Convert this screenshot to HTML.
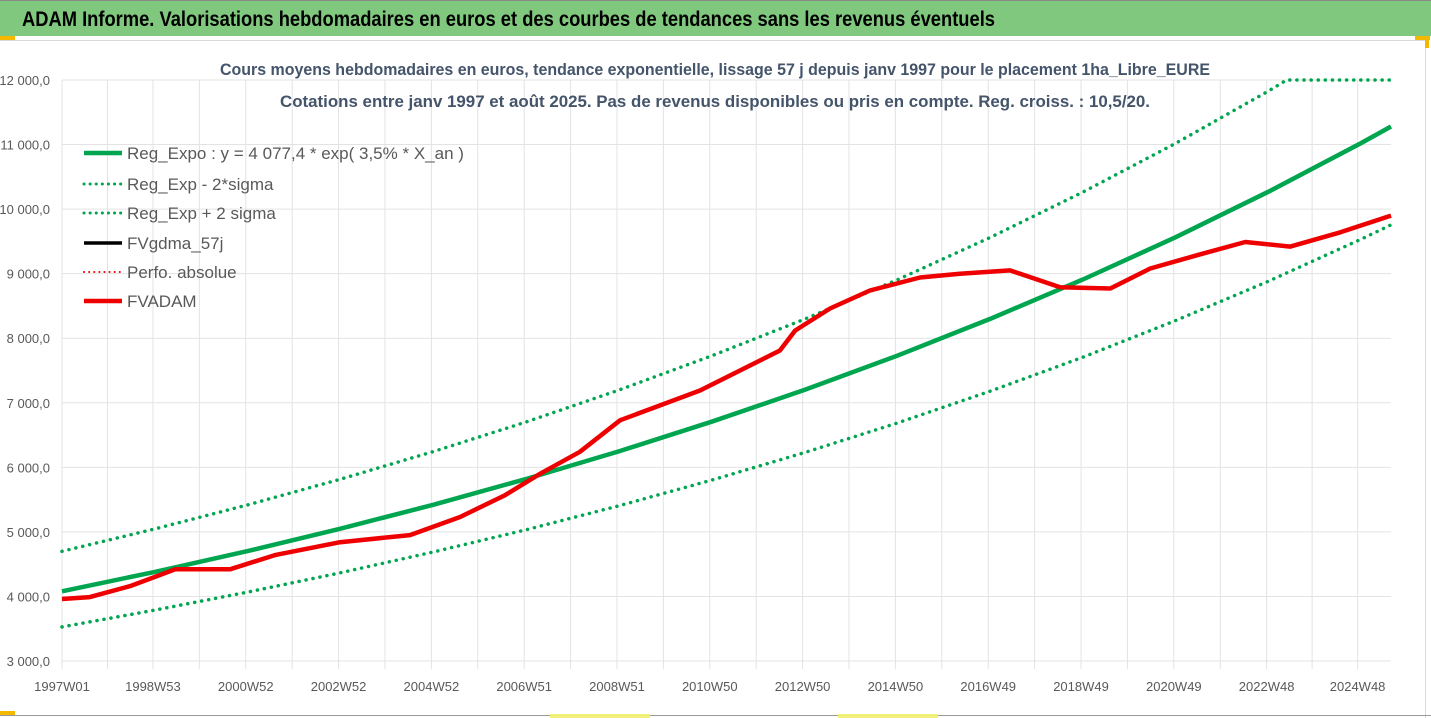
<!DOCTYPE html>
<html><head><meta charset="utf-8"><style>
html,body{margin:0;padding:0;background:#fff;}
svg{display:block;font-family:"Liberation Sans",sans-serif;}
</style></head><body>
<svg id="chart" width="1431" height="718" viewBox="0 0 1431 718">
<rect x="0" y="0" width="1431" height="718" fill="#ffffff"/>
<rect x="0" y="0" width="1431" height="36" fill="#80c87e"/>
<line x1="0" y1="0.5" x2="1431" y2="0.5" stroke="#888"/>
<text x="22" y="26" font-size="21" font-weight="bold" fill="#000" textLength="973" lengthAdjust="spacingAndGlyphs">ADAM Informe. Valorisations hebdomadaires en euros et des courbes de tendances sans les revenus éventuels</text>
<line x1="0" y1="40.5" x2="1425" y2="40.5" stroke="#d9d9d9"/>
<line x1="1425.5" y1="40" x2="1425.5" y2="718" stroke="#d9d9d9"/>
<line x1="0" y1="715.5" x2="1431" y2="715.5" stroke="#999"/>
<rect x="0" y="36" width="15" height="4" fill="#f5b800"/>
<rect x="1415" y="36" width="15" height="4" fill="#f5b800"/>
<rect x="1425" y="36" width="4" height="12" fill="#f5b800"/>
<rect x="0" y="711" width="15" height="4" fill="#f5b800"/>
<rect x="550" y="714" width="100" height="4" fill="#f0f07a"/>
<rect x="838" y="714" width="100" height="4" fill="#f0f07a"/>
<g id="grid"></g>
<g id="yaxis"></g>
<g id="xaxis"></g>
<g id="series"></g>
<text x="715" y="75" text-anchor="middle" font-size="16.5" font-weight="bold" fill="#44546a" textLength="990" lengthAdjust="spacingAndGlyphs">Cours moyens hebdomadaires en euros, tendance exponentielle, lissage 57 j depuis janv 1997 pour le placement 1ha_Libre_EURE</text>
<text x="715" y="107" text-anchor="middle" font-size="16.5" font-weight="bold" fill="#44546a" textLength="870" lengthAdjust="spacingAndGlyphs">Cotations entre janv 1997 et août 2025. Pas de revenus disponibles ou pris en compte. Reg. croiss. : 10,5/20.</text>
<g id="legend"></g>
</svg>
<script>
const yTicks = [3000,4000,5000,6000,7000,8000,9000,10000,11000,12000];
const xTickLabels = ["1997W01","1998W53","2000W52","2002W52","2004W52","2006W51","2008W51","2010W50","2012W50","2014W50","2016W49","2018W49","2020W49","2022W48","2024W48"];
const xTickYears = [1997,1998.96,2000.96,2002.96,2004.96,2006.96,2008.96,2010.96,2012.96,2014.96,2016.96,2018.96,2020.96,2022.96,2024.92];
const regYears = [1997,1999,2001,2003,2005,2007,2009,2011,2013,2015,2017,2019,2021,2023,2025,2025.64];
const regExpo = [4080,4380,4703,5049,5420,5819,6247,6707,7200,7730,8299,8909,9565,10269,11024,11279];
const regLow = [3529,3789,4068,4367,4688,5033,5404,5802,6228,6686,7179,7706,8274,8883,9536,9756];
const regHigh = [4700,5046,5418,5816,6244,6703,7197,7727,8294,8905,9561,10263,11019,11830,12700,12993];
const adamYears = [1997.0,1997.6,1998.47,1999.44,2000.62,2001.59,2002.99,2004.5,2005.58,2006.55,2007.3,2008.16,2009.03,2009.89,2010.75,2011.61,2012.47,2012.8,2013.55,2014.41,2015.49,2016.35,2017.43,2018.51,2019.59,2020.45,2021.53,2022.5,2023.47,2024.54,2025.64];
const adamValues = [3960,3990,4160,4420,4420,4640,4840,4950,5230,5570,5900,6240,6730,6960,7190,7500,7810,8120,8460,8740,8940,9000,9050,8790,8770,9080,9300,9490,9420,9640,9900];
const legendLabels = ["Reg_Expo : y = 4 077,4 * exp( 3,5% *  X_an )","Reg_Exp - 2*sigma","Reg_Exp + 2 sigma","FVgdma_57j","Perfo. absolue","FVADAM"];

const NS="http://www.w3.org/2000/svg";
const X0=62,X1=1391,Y0=661,Y1=80;
const T0=1997,T1=2025.64,V0=3000,V1=12000;
const xs=t=>X0+(t-T0)/(T1-T0)*(X1-X0);
const ys=v=>Y0-(v-V0)/(V1-V0)*(Y0-Y1);
function mk(tag,attrs,parent){const e=document.createElementNS(NS,tag);for(const k in attrs)e.setAttribute(k,attrs[k]);parent.appendChild(e);return e;}
const grid=document.getElementById('grid'),ya=document.getElementById('yaxis'),xa=document.getElementById('xaxis'),ser=document.getElementById('series'),leg=document.getElementById('legend');

yTicks.forEach(v=>{
  const l=mk('line',{x1:X0,x2:X1,y1:ys(v),y2:ys(v),stroke:'#e3e3e3','stroke-width':1},grid);
  
  
  const t=mk('text',{x:50,y:ys(v)+5,'text-anchor':'end','font-size':13,fill:'#595959'},ya);
  t.textContent=v.toLocaleString('fr-FR').replace(/\u202f|\u00a0/g,' ')+',0';
  
  
});
for(let i=0;i<xTickYears.length;i++){
  const x=xs(xTickYears[i]);
  const g=mk('line',{x1:x,x2:x,y1:Y1,y2:Y0+8,stroke:'#e3e3e3'},grid);
  
  
  if(i<xTickYears.length-1){
    const xm=(x+xs(xTickYears[i+1]))/2;
    const g2=mk('line',{x1:xm,x2:xm,y1:Y1,y2:Y0+8,stroke:'#e3e3e3'},grid);
    
    
  }
  const t=mk('text',{x:x,y:691,'text-anchor':'middle','font-size':13,fill:'#595959'},xa);
  t.textContent=xTickLabels[i];
  
  
}
function clipPts(xsArr,vals){
  const out=[];
  for(let i=0;i<vals.length;i++){
    if(i>0&&vals[i-1]<V1&&vals[i]>V1){
      const f=(V1-vals[i-1])/(vals[i]-vals[i-1]);
      out.push([xsArr[i-1]+f*(xsArr[i]-xsArr[i-1]),V1]);
    }
    out.push([xsArr[i],Math.min(vals[i],V1)]);
  }
  return out.map(p=>xs(p[0]).toFixed(1)+','+ys(p[1]).toFixed(1)).join(' ');
}
const lo=mk('polyline',{points:clipPts(regYears,regLow),fill:'none',stroke:'#00a550','stroke-width':3.5,'stroke-dasharray':'0.1 7','stroke-linecap':'round'},ser);


const hi=mk('polyline',{points:clipPts(regYears,regHigh),fill:'none',stroke:'#00a550','stroke-width':3.5,'stroke-dasharray':'0.1 7','stroke-linecap':'round'},ser);


const re=mk('polyline',{points:clipPts(regYears,regExpo),fill:'none',stroke:'#00a550','stroke-width':4.5},ser);


const ad=mk('polyline',{points:clipPts(adamYears,adamValues),fill:'none',stroke:'#ee0000','stroke-width':4.5,'stroke-linejoin':'round'},ser);



const legStyles=[
 {stroke:'#00a550',w:4.5,dash:null},
 {stroke:'#00a550',w:3,dash:'0.1 6'},
 {stroke:'#00a550',w:3,dash:'0.1 6'},
 {stroke:'#000',w:3.5,dash:null},
 {stroke:'#ee0000',w:2,dash:'0.1 5'},
 {stroke:'#ee0000',w:4.5,dash:null}];
const legY=[153,184,213,243,272,301];
for(let i=0;i<legendLabels.length;i++){
  const s=legStyles[i];
  const a={x1:84,x2:122,y1:legY[i],y2:legY[i],stroke:s.stroke,'stroke-width':s.w};
  if(s.dash){a['stroke-dasharray']=s.dash;a['stroke-linecap']='round';}
  const l=mk('line',a,leg);
  
  
  const t=mk('text',{x:127,y:legY[i]+6,'font-size':17,fill:'#595959'},leg);
  t.textContent=legendLabels[i];
  
  
}
</script>
</body></html>
